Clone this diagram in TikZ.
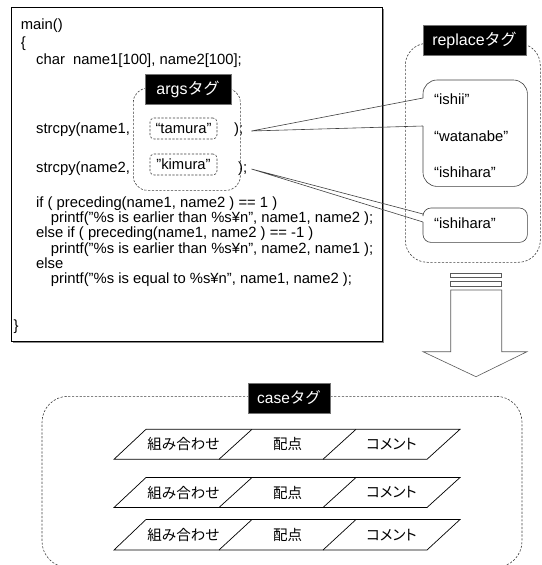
\documentclass[tikz,border=0pt]{standalone}
\usepackage{fontspec}
\setmainfont{Liberation Sans}
\newfontfamily\jp{Noto Sans CJK JP}
\newfontfamily\jpp[RawFeature=+palt]{Noto Sans CJK JP}
\usetikzlibrary{calc}
\begin{document}
\begin{tikzpicture}[x=1pt,y=-1pt,
  codetxt/.style={anchor=base west,inner sep=0pt,font=\fontsize{14.8}{16}\selectfont},
  dbox/.style={draw=black!75,line width=0.6pt,dash pattern=on 2.2pt off 1.6pt},
  tagl/.style={fill=black,draw=black!55,text=white,inner sep=0pt,minimum height=30pt,font=\fontsize{16}{18}\selectfont},
  cline/.style={draw=black!75,line width=0.6pt},
  rowst/.style={draw=black,line width=0.7pt},
  arrowst/.style={draw=black!65,line width=0.6pt},
  celltxt/.style={inner sep=0pt,font=\jp\fontsize{14.5}{16}\selectfont},
  reptxt/.style={anchor=base west,inner sep=0pt,font=\fontsize{14.8}{16}\selectfont},
  ]
\useasboundingbox (0,0) rectangle (541,565);

% ---------- code box ----------
\fill[black!45] (12.5,8.5) rectangle (383.5,342.5);
\node[draw=black,fill=white,line width=0.8pt,minimum width=371pt,minimum height=334pt,
      inner sep=0pt,anchor=north west] (codebox) at (11,7) {};

\node[codetxt] (l1) at (20.7,29) {main()};
\node[codetxt] (l2) at (20.7,47) {\{};
\node[codetxt] (l3) at (36,64) {char\ \ name1[100], name2[100];};
\node[codetxt] (s1) at (36,133) {strcpy(name1,};
\node[codetxt] (e1) at (234,133) {);};
\node[codetxt] (s2) at (36,172) {strcpy(name2,};
\node[codetxt] (e2) at (238,172) {);};
\node[codetxt] (l6) at (36,207) {if ( preceding(name1, name2 ) == 1 )};
\node[codetxt] (l7) at (50.7,222) {printf("\%s is earlier than \%s¥n", name1, name2 );};
\node[codetxt] (l8) at (36,237) {else if ( preceding(name1, name2 ) == -1 )};
\node[codetxt] (l9) at (50.7,253) {printf("\%s is earlier than \%s¥n", name2, name1 );};
\node[codetxt] (l10) at (36,268) {else};
\node[codetxt] (l11) at (50.7,283.5) {printf("\%s is equal to \%s¥n", name1, name2 );};
\node[codetxt] (l12) at (13.5,330) {\}};

% ---------- args tag ----------
\node[dbox,rounded corners=14pt,minimum width=107pt,minimum height=102pt,inner sep=0pt,
      anchor=north west] (argsbox) at (133,88) {};
\node[tagl,minimum width=86pt] (argstag) at (188,89) {args{\jp タグ}};
\node[dbox,rounded corners=4pt,minimum width=67pt,minimum height=21pt,inner sep=0pt,
      font=\fontsize{14.8}{16}\selectfont] (tamura) at (183.5,128.5) {“tamura"};
\node[dbox,rounded corners=4pt,minimum width=67pt,minimum height=21pt,inner sep=0pt,
      font=\fontsize{14.8}{16}\selectfont] (kimura) at (183.5,164.5) {"kimura"};

% ---------- replace tag ----------
\node[dbox,rounded corners=22pt,minimum width=135pt,minimum height=219pt,inner sep=0pt,
      anchor=north west] (repbox) at (405,43) {};
\node[tagl,minimum width=103pt] (reptag) at (474.5,40) {replace{\jp タグ}};

\node[minimum width=104pt,minimum height=106pt,inner sep=0pt,anchor=north west] (rep1) at (423,80) {};
\node[reptxt] (r1) at (434,104) {“ishii"};
\node[reptxt] (r2) at (434,141) {“watanabe"};
\node[reptxt] (r3) at (434,177) {“ishihara"};

\node[minimum width=104pt,minimum height=34pt,inner sep=0pt,anchor=north west] (rep2) at (423,208) {};
\node[reptxt] (r4) at (434,228.5) {“ishihara"};

% callout 1
\coordinate (tip1) at ($(e1.base east)+(8,-2)$);
\coordinate (w1a) at ($(rep1.north west)+(0,18)$);
\coordinate (w1b) at ($(rep1.north west)+(0,46)$);
\draw[cline,rounded corners=14pt] (w1b) -- (rep1.south west) -- (rep1.south east)
      -- (rep1.north east) -- (rep1.north west) -- (w1a);
\draw[cline] (w1a) -- (tip1) -- (w1b);

% callout 2
\coordinate (tip2) at ($(e2.base east)+(4,-3)$);
\coordinate (w2a) at ($(rep2.north west)+(0,6)$);
\coordinate (w2b) at ($(rep2.north west)+(0,14)$);
\draw[cline,rounded corners=8pt] (w2b) -- (rep2.south west) -- (rep2.south east)
      -- (rep2.north east) -- (rep2.north west) -- (w2a);
\draw[cline] (w2a) -- (tip2) -- (w2b);

% ---------- block arrow ----------
\draw[arrowst] (450.7,273) rectangle (501.7,277);
\draw[arrowst] (450.7,281) rectangle (501.7,286);
\draw[arrowst] (450.7,290) -- (450.7,351.7) -- (423,351.7) -- (476,376.7)
      -- (527,351.7) -- (501.7,351.7) -- (501.7,290) -- cycle;

% ---------- case tag ----------
\node[dbox,rounded corners=26pt,minimum width=480pt,minimum height=171pt,inner sep=0pt,
      anchor=north west] (casebox) at (41.7,396) {};
\node[tagl,minimum width=82pt,font=\fontsize{15.5}{18}\selectfont] (casetag) at (289,397.7) {case{\jp タグ}};

\foreach \T/\B/\n in {429.3/459.3/1, 477.5/507.5/2, 519.5/550/3}{
  \draw[rowst] (114,\B) -- (427,\B) -- (460,\T) -- (146,\T) -- cycle;
  \draw[rowst] (219,\B) -- (252,\T);
  \draw[rowst] (323,\B) -- (356,\T);
  \node[celltxt] (k\n) at (183.5,{(\T+\B)/2}) {組み合わせ};
  \node[celltxt] (h\n) at (287.5,{(\T+\B)/2}) {配点};
  \node[celltxt,font=\jpp\fontsize{14.5}{16}\selectfont] (c\n) at (391.5,{(\T+\B)/2}) {コメント};
}
\end{tikzpicture}
\end{document}
